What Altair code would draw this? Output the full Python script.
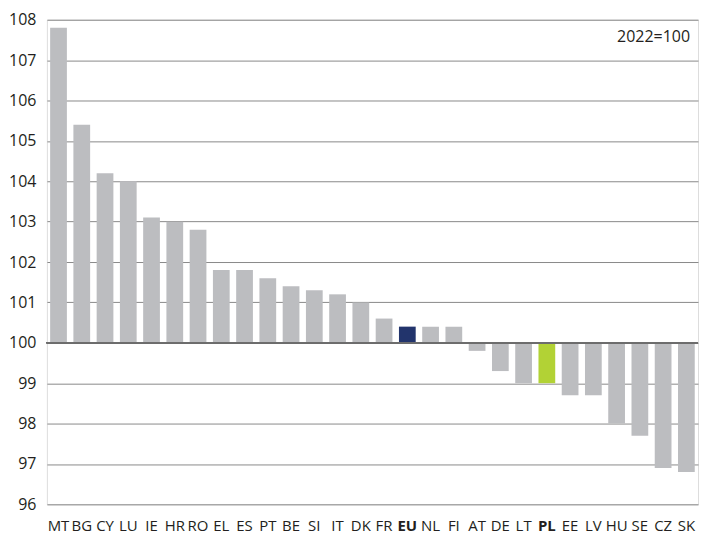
import altair as alt
import pandas as pd

countries = ["MT", "BG", "CY", "LU", "IE", "HR", "RO", "EL", "ES", "PT", "BE", "SI", "IT", "DK",
             "FR", "EU", "NL", "FI", "AT", "DE", "LT", "PL", "EE", "LV", "HU", "SE", "CZ", "SK"]
values = [107.8, 105.4, 104.2, 104.0, 103.1, 103.0, 102.8, 101.8, 101.8, 101.6, 101.4, 101.3, 101.2, 101.0,
          100.6, 100.4, 100.4, 100.4, 99.8, 99.3, 99.0, 99.0, 98.7, 98.7, 98.0, 97.7, 96.9, 96.8]
groups = ["EU" if c == "EU" else ("PL" if c == "PL" else "other") for c in countries]
y_ticks = list(range(96, 109))

df = pd.DataFrame({"country": countries, "value": values, "group": groups})

FONT = "Open Sans"

x_enc = alt.X("country:N", sort=countries,
              scale=alt.Scale(paddingInner=0.28, paddingOuter=0.14),
              axis=alt.Axis(title=None, labelAngle=0, ticks=False, domain=False, grid=False,
                            labelFont=FONT, labelFontSize=15, labelColor="#231f20", labelPadding=14,
                            labelFontWeight={"condition": {"test": "datum.value === 'EU' || datum.value === 'PL'",
                                                           "value": "bold"}, "value": "normal"}))

bars = alt.Chart(df).mark_bar().encode(
    x=x_enc,
    y=alt.Y("value:Q", scale=alt.Scale(domain=[96, 108], nice=False, zero=False),
            axis=alt.Axis(title=None, values=y_ticks, ticks=False, domain=False, grid=True,
                          gridColor="#8a8a8a", gridWidth=1, labelFont=FONT, labelFontSize=16,
                          labelColor="#231f20", labelPadding=11)),
    y2=alt.Y2(datum=100),
    color=alt.Color("group:N", scale=alt.Scale(domain=["other", "EU", "PL"],
                                               range=["#bcbdc0", "#22346c", "#b2d235"]),
                    legend=None),
)

base_rule = alt.Chart(df).mark_rule(color="#6d6d6d", strokeWidth=1.5).encode(
    y=alt.datum(100)
)

note = alt.Chart(pd.DataFrame({"t": ["2022=100"]})).mark_text(
    align="right", baseline="middle", font=FONT, fontSize=16, color="#231f20"
).encode(x=alt.value(645), y=alt.value(17), text="t:N")

chart = alt.layer(bars, base_rule, note).properties(
    width=653, height=486,
    padding={"left": 0, "top": 3, "right": 0, "bottom": 0},
).configure_view(stroke=None).configure(background="white")

chart.save("out.html", embed_options={"renderer": "svg", "actions": False})
